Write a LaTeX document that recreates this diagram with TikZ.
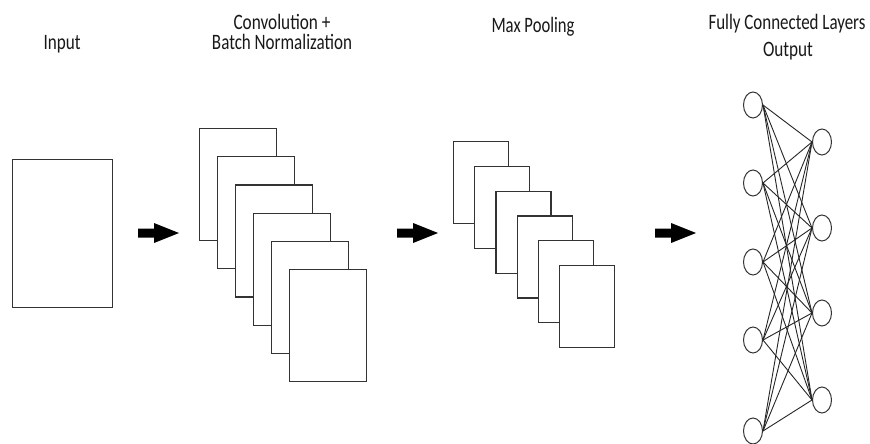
\documentclass[tikz,border=0pt]{standalone}
\usepackage{fontspec}
\setmainfont{Carlito}
\usetikzlibrary{shapes.geometric}
\newcommand{\lbl}[2]{\resizebox{#1pt}{\height}{#2}}
\tikzset{
  title/.style={inner sep=0pt, anchor=base, font=\fontsize{22}{26}\selectfont, text=black!90},
  fmap/.style={draw=black!80, line width=1.1pt, fill=white, inner sep=0pt, anchor=north west},
  neuron/.style={ellipse, draw=black!80, line width=1pt, fill=white, minimum width=19pt, minimum height=26pt, inner sep=0pt},
  edge/.style={draw=black!85, line width=0.9pt},
  fatarrow/.style={fill=black}
}
\begin{document}
\begin{tikzpicture}[x=1pt,y=-1pt]
\useasboundingbox (0,0) rectangle (870,444);
\fill[white] (0,0) rectangle (870,444);

% titles
\node[title] (tIn) at (62,49) {\lbl{37}{Input}};
\node[title] (tConv1) at (282,30) {\lbl{97}{Convolution +}};
\node[title] (tConv2) at (282,50) {\lbl{140}{Batch Normalization}};
\node[title] (tPool) at (533,33) {\lbl{83}{Max Pooling}};
\node[title] (tFC1) at (787,30) {\lbl{157}{Fully Connected Layers}};
\node[title] (tFC2) at (788,57) {\lbl{50}{Output}};

% input
\node[fmap, minimum width=100pt, minimum height=148pt] (in) at (12,159) {};

% convolution stack
\foreach \k in {0,...,5} {
  \node[fmap, minimum width=77pt, minimum height=112pt] (c\k) at ({199+18*\k},{128+28.2*\k}) {};
}

% pooling stack
\foreach \k in {0,...,5} {
  \node[fmap, minimum width=55pt, minimum height=82pt] (p\k) at ({453+21.2*\k},{141+24.8*\k}) {};
}

% arrows
\foreach \x/\n in {138/a1, 397/a2, 655/a3} {
  \coordinate (\n) at (\x,233);
  \fill[fatarrow] (\x,228.5) -- ++(16,0) -- ++(0,-5.5) -- ++(25,10) -- ++(-25,10) -- ++(0,-5.5) -- ++(-16,0) -- cycle;
}

% network
\foreach \y [count=\i] in {105,183,262,340,431} {
  \node[neuron] (L\i) at (753,\y) {};
}
\foreach \y [count=\j] in {142,228,313,400} {
  \node[neuron] (R\j) at (822,\y) {};
}
\foreach \i in {1,...,5} {
  \foreach \j in {1,...,4} {
    \draw[edge] (L\i.east) -- (R\j.west);
  }
}
\end{tikzpicture}
\end{document}
